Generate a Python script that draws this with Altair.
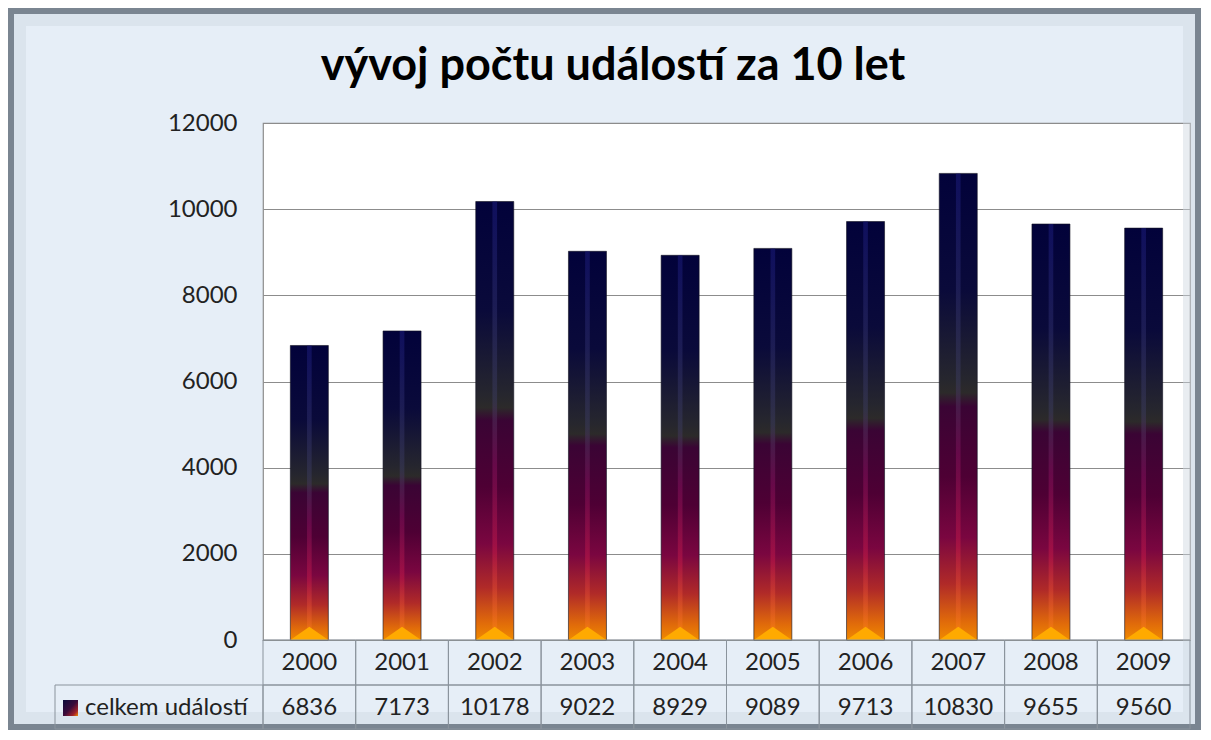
import altair as alt
import pandas as pd

# ---- data ----
years = ["2000", "2001", "2002", "2003", "2004", "2005", "2006", "2007", "2008", "2009"]
values = [6836, 7173, 10178, 9022, 8929, 9089, 9713, 10830, 9655, 9560]
series_name = "celkem událostí"
title_text = "vývoj počtu událostí za 10 let"
y_ticks = [0, 2000, 4000, 6000, 8000, 10000, 12000]

df = pd.DataFrame({"year": years, "value": values, "zero": [0] * len(years)})
one = pd.DataFrame({"t": [title_text], "s": [series_name]})

W, H = 927, 517
PAD = {"left": 255, "top": 115, "right": 11, "bottom": 90}
FONT = "Lato"
FS = 24

xenc = alt.X("year:N", axis=None, sort=years,
             scale=alt.Scale(paddingInner=0, paddingOuter=0))
yenc = alt.Y("value:Q",
             scale=alt.Scale(domain=[0, 12000], nice=False),
             axis=alt.Axis(values=y_ticks, format="d", title=None, domain=False,
                           ticks=False, labelFont=FONT, labelFontSize=FS,
                           labelColor="#222222", labelPadding=26, grid=True,
                           gridColor="#8c8c8c", gridWidth=1.2))

bar_grad = alt.LinearGradient(
    gradient="linear", x1=0, y1=0, x2=0, y2=1,
    stops=[
        alt.GradientStop(color="#02023a", offset=0.0),
        alt.GradientStop(color="#0a0a3a", offset=0.25),
        alt.GradientStop(color="#26262e", offset=0.44),
        alt.GradientStop(color="#2c2a2a", offset=0.47),
        alt.GradientStop(color="#3a0434", offset=0.50),
        alt.GradientStop(color="#4e0034", offset=0.65),
        alt.GradientStop(color="#7a0640", offset=0.78),
        alt.GradientStop(color="#b02a28", offset=0.88),
        alt.GradientStop(color="#e06a0a", offset=0.96),
        alt.GradientStop(color="#f08a00", offset=1.0),
    ])

stripe_grad = alt.LinearGradient(
    gradient="linear", x1=0, y1=0, x2=0, y2=1,
    stops=[
        alt.GradientStop(color="#1a1a7a", offset=0.0),
        alt.GradientStop(color="#3a3a5a", offset=0.45),
        alt.GradientStop(color="#80105a", offset=0.6),
        alt.GradientStop(color="#c01848", offset=0.8),
        alt.GradientStop(color="#ff8a10", offset=1.0),
    ])

legend_grad = alt.LinearGradient(
    gradient="linear", x1=0, y1=0, x2=1, y2=1,
    stops=[
        alt.GradientStop(color="#0a0a3a", offset=0.0),
        alt.GradientStop(color="#3a0a3a", offset=0.5),
        alt.GradientStop(color="#a0202a", offset=0.8),
        alt.GradientStop(color="#f08a00", offset=1.0),
    ])

base = alt.Chart(df)

bars = base.mark_bar(color=bar_grad, width=alt.RelativeBandSize(0.41),
                     stroke="#101020", strokeWidth=0.6).encode(x=xenc, y=yenc)

stripe = base.mark_bar(color=stripe_grad, width=alt.RelativeBandSize(0.05),
                       opacity=0.55).encode(x="year:N", y="value:Q")

tri = base.mark_point(shape="M-1,0L0,-0.7L1,0Z", size=1444, filled=True,
                      color="#ffaa00", opacity=1).encode(x="year:N", y="zero:Q")

row1 = base.mark_rect(fill="transparent", stroke="#8a939c", strokeWidth=1).encode(
    x="year:N", y=alt.value(H), y2=alt.value(H + 45))
row2 = base.mark_rect(fill="transparent", stroke="#8a939c", strokeWidth=1).encode(
    x="year:N", y=alt.value(H + 45), y2=alt.value(H + 89))

year_txt = base.mark_text(font=FONT, fontSize=FS, color="#222222",
                          baseline="middle").encode(
    x="year:N", y=alt.value(H + 23), text="year:N")
val_txt = base.mark_text(font=FONT, fontSize=FS, color="#222222",
                         baseline="middle").encode(
    x="year:N", y=alt.value(H + 68), text="value:Q")

single = alt.Chart(one)

legend_cell = single.mark_rect(fill="transparent", stroke="#8a939c", strokeWidth=1).encode(
    x=alt.value(-208), x2=alt.value(0), y=alt.value(H + 45), y2=alt.value(H + 89))
legend_sym = single.mark_rect(color=legend_grad).encode(
    x=alt.value(-200), x2=alt.value(-185), y=alt.value(H + 60), y2=alt.value(H + 76))
legend_txt = single.mark_text(font=FONT, fontSize=FS, color="#222222", align="left",
                              baseline="middle").encode(
    x=alt.value(-178), y=alt.value(H + 68), text="s:N")

frame_inner = single.mark_rect(fill="transparent", stroke="#cfd8e2", strokeWidth=14,
                               opacity=0.45).encode(
    x=alt.value(-PAD["left"] + 11), x2=alt.value(W + PAD["right"] - 11),
    y=alt.value(-PAD["top"] + 11), y2=alt.value(H + PAD["bottom"] - 11))
frame = single.mark_rect(fill="transparent", stroke="#7a8591", strokeWidth=6).encode(
    x=alt.value(-PAD["left"] + 3), x2=alt.value(W + PAD["right"] - 3),
    y=alt.value(-PAD["top"] + 3), y2=alt.value(H + PAD["bottom"] - 3))

title = single.mark_text(font=FONT, fontSize=45, fontWeight="bold", color="#000000",
                         align="center", baseline="alphabetic").encode(
    x=alt.value(350), y=alt.value(-43), text="t:N")

chart = alt.layer(
    frame_inner, frame, bars, stripe, tri, row1, row2, year_txt, val_txt,
    legend_cell, legend_sym, legend_txt, title
).properties(
    width=W, height=H, padding=PAD, autosize=alt.AutoSizeParams(type="none"),
    background="#e6eef7"
).configure_view(fill="white", stroke="#8c8c8c", strokeWidth=1.2)

chart.save("out.html", embed_options={"renderer": "svg", "actions": False})
